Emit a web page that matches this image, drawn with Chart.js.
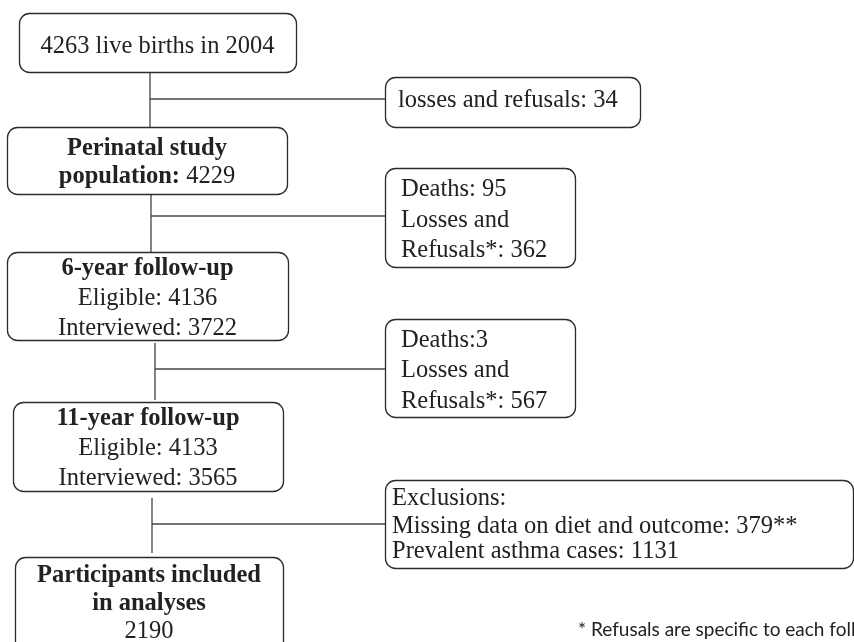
<!DOCTYPE html>
<html>
<head>
<meta charset="utf-8">
<script src="https://cdn.jsdelivr.net/npm/chart.js@4"></script>
<style>
  html, body { margin: 0; padding: 0; background: #fff; }
  #flow { display: block; }
</style>
</head>
<body>
<canvas id="flow" width="854" height="642"></canvas>
<script>
// study numbers
var liveBirths = [4263];
var birthYear = [2004];
var earlyLosses = [34];
var perinatalPop = [4229];
var followUpYears = [6, 11];
var eligible = [4136, 4133];
var interviewed = [3722, 3565];
var deaths = [95, 3];
var lossesRefusals = [362, 567];
var missingData = [379];
var asthmaCases = [1131];
var included = [2190];

// box layout (canvas units)
var boxes = [
  { x0: 19, y0: 13, x1: 296, y1: 72, align: 'center', base: [53] },
  { x0: 385, y0: 77, x1: 640, y1: 127, align: 'left', tx: 398, base: [107] },
  { x0: 7, y0: 127, x1: 287, y1: 194, align: 'center', base: [155, 183] },
  { x0: 385, y0: 168, x1: 575, y1: 267, align: 'left', tx: 401, base: [196, 227, 257] },
  { x0: 7, y0: 252, x1: 288, y1: 340, align: 'center', base: [275, 305, 335] },
  { x0: 385, y0: 319, x1: 575, y1: 417, align: 'left', tx: 401, base: [347, 377, 408] },
  { x0: 13, y0: 402, x1: 283, y1: 491, align: 'center', base: [425, 455, 485] },
  { x0: 385, y0: 480, x1: 853, y1: 568, align: 'left', tx: 392, base: [505, 533, 558] },
  { x0: 15, y0: 557, x1: 283, y1: 652, align: 'center', base: [582, 610, 638] }
];

// text for each box: lines of [text, bold] segments
var texts = [
  [[[liveBirths[0] + ' live births in ' + birthYear[0], false]]],
  [[['losses and refusals: ' + earlyLosses[0], false]]],
  [[['Perinatal study', true]], [['population: ', true], [String(perinatalPop[0]), false]]],
  [[['Deaths: ' + deaths[0], false]], [['Losses and', false]], [['Refusals*: ' + lossesRefusals[0], false]]],
  [[[followUpYears[0] + '-year follow-up', true]], [['Eligible: ' + eligible[0], false]], [['Interviewed: ' + interviewed[0], false]]],
  [[['Deaths:' + deaths[1], false]], [['Losses and', false]], [['Refusals*: ' + lossesRefusals[1], false]]],
  [[[followUpYears[1] + '-year follow-up', true]], [['Eligible: ' + eligible[1], false]], [['Interviewed: ' + interviewed[1], false]]],
  [[['Exclusions:', false]], [['Missing data on diet and outcome: ' + missingData[0] + '**', false]], [['Prevalent asthma cases: ' + asthmaCases[0], false]]],
  [[['Participants included', true]], [['in analyses', true]], [[String(included[0]), false]]]
];

// connectors: vertical trunk + branch to the side box
var connectors = [
  [{ x: 150, y: 72 }, { x: 150, y: 127 }],
  [{ x: 150, y: 99 }, { x: 385, y: 99 }],
  [{ x: 151, y: 194 }, { x: 151, y: 252 }],
  [{ x: 151, y: 216 }, { x: 385, y: 216 }],
  [{ x: 155, y: 343 }, { x: 155, y: 400 }],
  [{ x: 155, y: 369 }, { x: 385, y: 369 }],
  [{ x: 152, y: 498 }, { x: 152, y: 553 }],
  [{ x: 152, y: 524 }, { x: 385, y: 524 }]
];

var footnote = '* Refusals are specific to each follow-up';

var serif = "'Liberation Serif', 'Times New Roman', serif";

var flowBoxes = {
  id: 'flowBoxes',
  afterDatasetsDraw: function (chart) {
    var ctx = chart.ctx;
    var xs = chart.scales.x, ys = chart.scales.y;
    ctx.save();
    boxes.forEach(function (b, i) {
      var x0 = xs.getPixelForValue(b.x0), x1 = xs.getPixelForValue(b.x1);
      var y0 = ys.getPixelForValue(b.y0), y1 = ys.getPixelForValue(b.y1);
      ctx.beginPath();
      ctx.roundRect(x0 + 0.5, y0 + 0.5, x1 - x0, y1 - y0, 10);
      ctx.fillStyle = '#fff';
      ctx.fill();
      ctx.lineWidth = 1.3;
      ctx.strokeStyle = '#2b2b2b';
      ctx.stroke();

      ctx.fillStyle = '#222';
      ctx.textBaseline = 'alphabetic';
      ctx.textAlign = 'left';
      texts[i].forEach(function (line, j) {
        var w = 0;
        line.forEach(function (seg) {
          ctx.font = (seg[1] ? 'bold ' : '') + '24.5px ' + serif;
          w += ctx.measureText(seg[0]).width;
        });
        var tx = b.align === 'center' ? (x0 + x1) / 2 - w / 2 : xs.getPixelForValue(b.tx);
        var ty = ys.getPixelForValue(b.base[j]);
        line.forEach(function (seg) {
          ctx.font = (seg[1] ? 'bold ' : '') + '24.5px ' + serif;
          ctx.fillText(seg[0], tx, ty);
          tx += ctx.measureText(seg[0]).width;
        });
      });
    });

    // footnote (runs off the right edge as in the source figure)
    ctx.font = "19px Lato, 'Open Sans', sans-serif";
    ctx.fillStyle = '#222';
    ctx.fillText(footnote, xs.getPixelForValue(578), ys.getPixelForValue(636));
    ctx.restore();
  }
};

new Chart(document.getElementById('flow'), {
  type: 'scatter',
  data: {
    datasets: connectors.map(function (c) {
      return {
        data: c,
        showLine: true,
        borderColor: '#444',
        borderWidth: 1.3,
        pointRadius: 0,
        fill: false
      };
    })
  },
  options: {
    responsive: false,
    animation: false,
    layout: { padding: 0 },
    plugins: { legend: { display: false }, tooltip: { enabled: false } },
    scales: {
      x: { type: 'linear', min: 0, max: 854, display: false },
      y: { type: 'linear', min: 0, max: 642, reverse: true, display: false }
    }
  },
  plugins: [flowBoxes]
});
</script>
</body>
</html>
